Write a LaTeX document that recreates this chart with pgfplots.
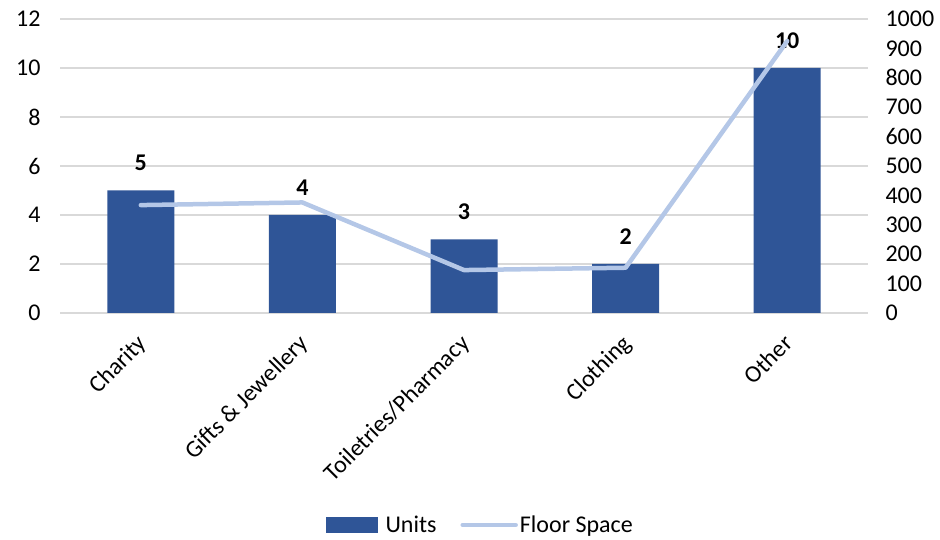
\documentclass[border=0pt]{standalone}
\usepackage{pgfplots}
\pgfplotsset{compat=1.18}
\usepackage{fontspec}
\setmainfont{Carlito}
\definecolor{barblue}{RGB}{47,85,151}
\definecolor{lineblue}{RGB}{180,199,231}
\definecolor{gridgray}{RGB}{217,217,217}

\begin{document}
\begin{tikzpicture}[font=\fontsize{24}{28}\selectfont]
\pgfplotsset{
  common/.style={
    scale only axis, width=808pt, height=294pt,
    xmin=-0.5, xmax=4.5,
    /pgf/number format/assume math mode=true,
    /pgf/number format/1000 sep={},
    tick style={draw=none},
    axis line style={draw=none},
    tick label style={font=\fontsize{24}{28}\selectfont, text=black},
  }
}
\begin{axis}[common,
  ymin=0, ymax=12, ytick={0,2,...,12},
  ymajorgrids, grid style={gridgray, line width=1.2pt},
  xtick={0,1,2,3,4},
  xticklabels={Charity, Gifts \& Jewellery, Toiletries/Pharmacy, Clothing, Other},
  xticklabel style={xshift=-5pt, yshift=-11pt, rotate=45, anchor=north east},
  yticklabel style={xshift=-16pt},
  ybar, bar width=67pt,
  nodes near coords,
  nodes near coords style={font=\fontsize{24}{28}\selectfont\bfseries, anchor=south, yshift=16pt, text=black},
]
\addplot[fill=barblue, draw=none] coordinates {(0,5) (1,4) (2,3) (3,2) (4,10)};
\coordinate (bl) at (rel axis cs:0,0);
\coordinate (tr) at (rel axis cs:1,1);
\end{axis}
\begin{axis}[common,
  ymin=0, ymax=1000, ytick={0,100,...,1000},
  axis y line*=right, axis x line=none,
  yticklabel style={xshift=14pt},
  legend columns=2,
  legend style={at={(0.52,-0.721)}, anchor=center, draw=none, fill=none,
    font=\fontsize{24}{28}\selectfont,
    /tikz/every even column/.append style={column sep=22pt}},
]
\addlegendimage{legend image code/.code={\fill[barblue, draw=none] (0pt,-8pt) rectangle (52pt,8pt); \path[draw=none, fill=none] (0pt,0pt) -- (58pt,0pt);}}
\addlegendentry{Units}
\addplot[lineblue, line width=4.5pt, line cap=round, line join=round,
  legend image code/.code={\draw[lineblue, line width=4.5pt, line cap=round] (2pt,0pt) -- (55pt,0pt);}]
  coordinates {(0,367) (1,376) (2,146) (3,154) (4,925)};
\addlegendentry{Floor Space}
\end{axis}
\pgfresetboundingbox
\path ([shift={(-60pt,-227pt)}]bl) rectangle ([shift={(72pt,19pt)}]tr);
\end{tikzpicture}
\end{document}
